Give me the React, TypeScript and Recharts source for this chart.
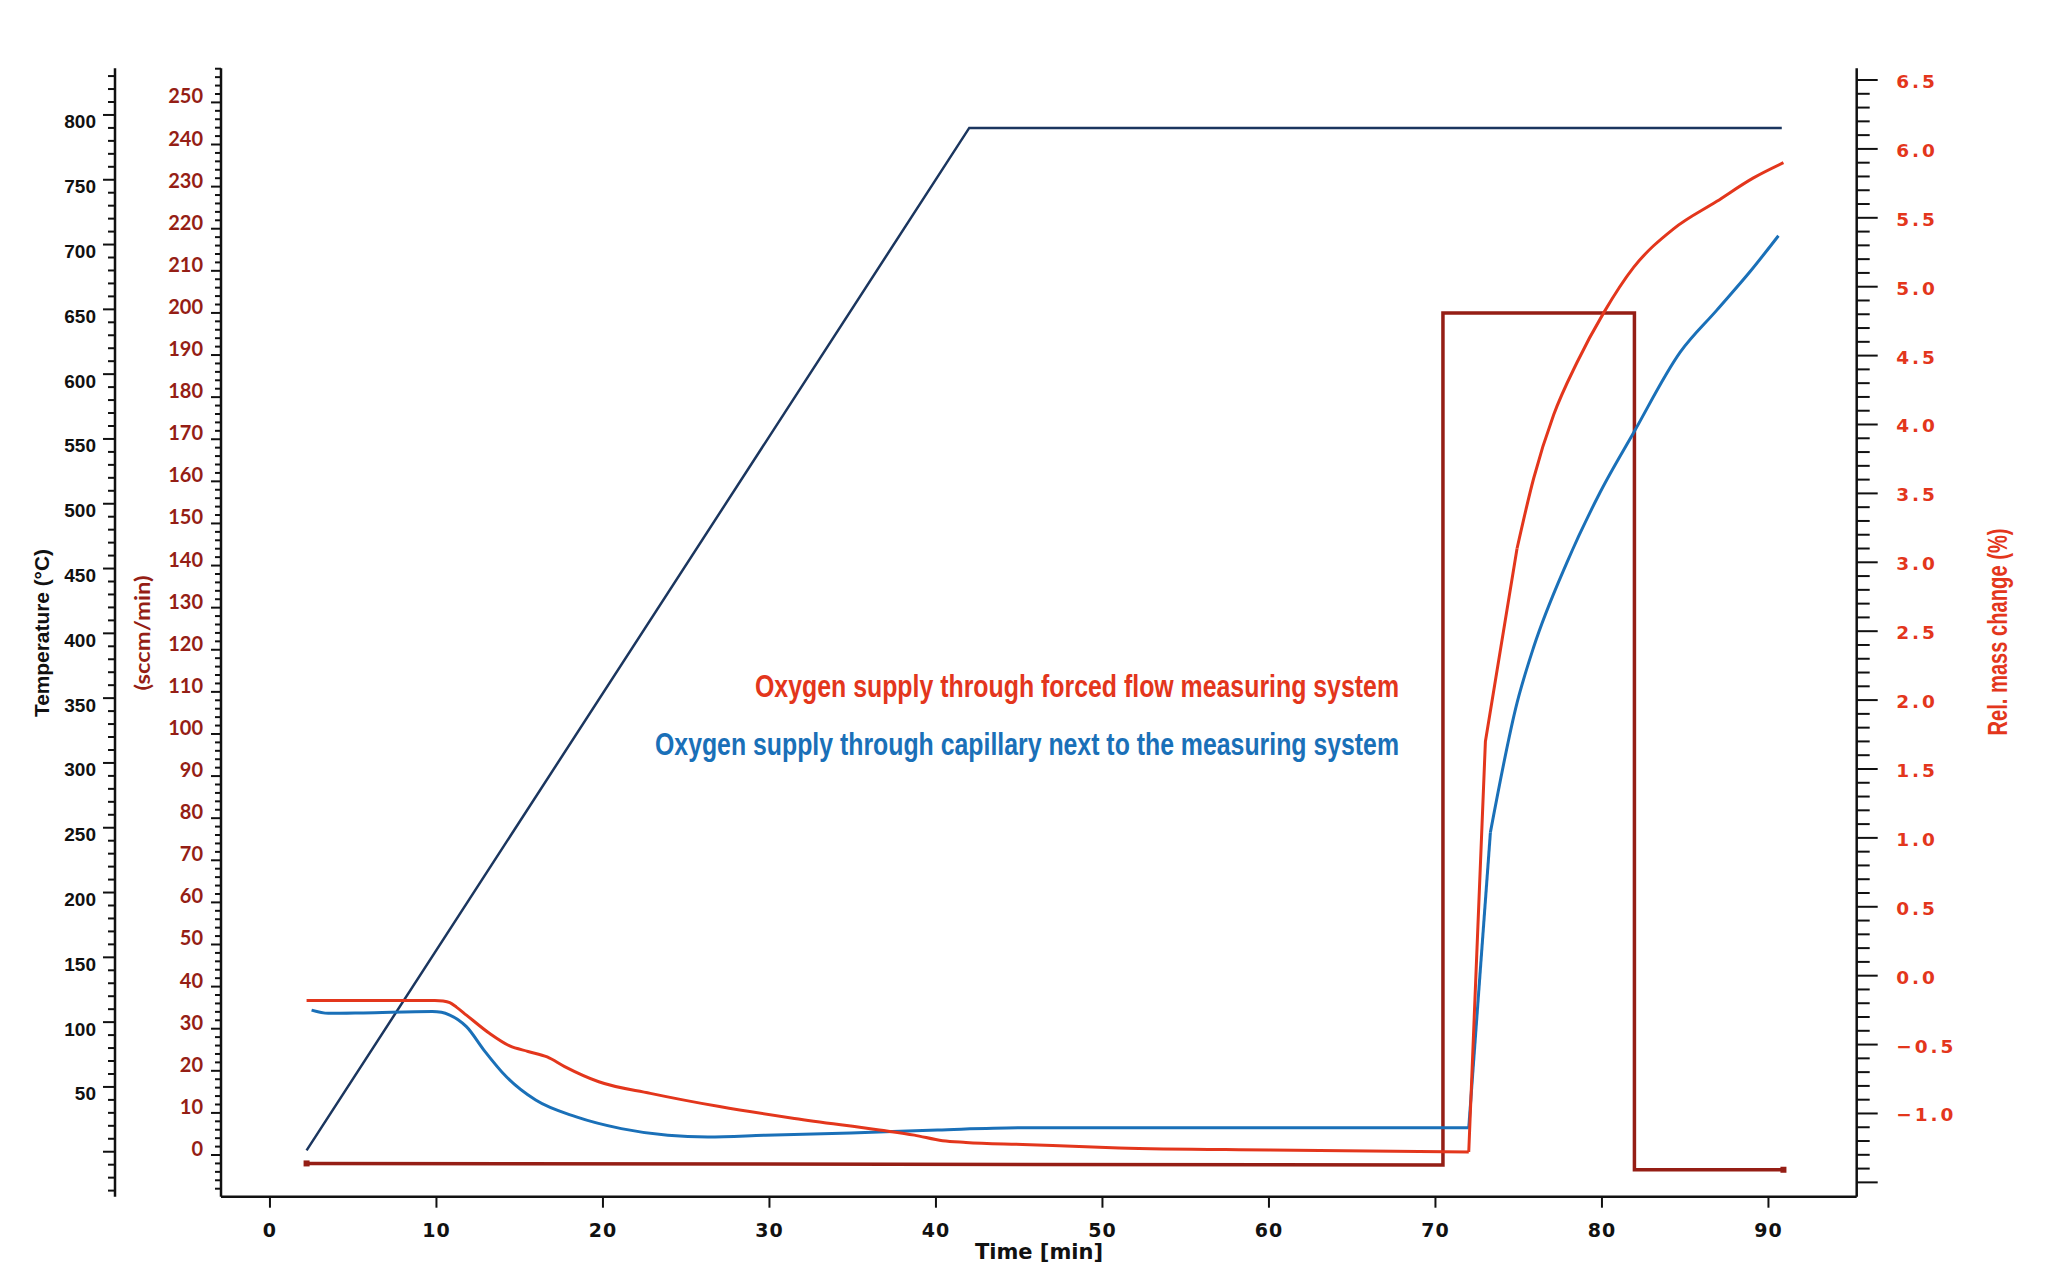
import React from "react";
import { LineChart, Line, XAxis, YAxis, Customized } from "recharts";

// time axis [min]
const X_TICKS = [0, 10, 20, 30, 40, 50, 60, 70, 80, 90];

// labelled tick values
const TEMP_LABELS = [50, 100, 150, 200, 250, 300, 350, 400, 450, 500, 550, 600, 650, 700, 750, 800];
const SCCM_LABELS = [0, 10, 20, 30, 40, 50, 60, 70, 80, 90, 100, 110, 120, 130, 140, 150, 160, 170, 180, 190, 200, 210, 220, 230, 240, 250];
const MASS_LABELS = [-1.0, -0.5, 0.0, 0.5, 1.0, 1.5, 2.0, 2.5, 3.0, 3.5, 4.0, 4.5, 5.0, 5.5, 6.0, 6.5];

// temperature programme (°C)
const temperature = [
  { t: 2.2, v: 1 },
  { t: 42.0, v: 790 },
  { t: 90.8, v: 790 },
];

// gas flow (sccm/min)
const gasFlow = [
  { t: 2.2, v: -2.0 },
  { t: 70.45, v: -2.4 },
  { t: 70.45, v: 200 },
  { t: 81.95, v: 200 },
  { t: 81.95, v: -3.5 },
  { t: 90.9, v: -3.5 },
];

// rel. mass change (%), forced flow
const forcedFlow = [
  { t: 2.2, v: -0.18 }, { t: 9.9, v: -0.18 }, { t: 10.4, v: -0.184 }, { t: 10.8, v: -0.196 },
  { t: 11.2, v: -0.228 }, { t: 11.8, v: -0.286 }, { t: 13.2, v: -0.42 }, { t: 14.4, v: -0.51 },
  { t: 15.5, v: -0.55 }, { t: 16.65, v: -0.59 }, { t: 17.7, v: -0.66 }, { t: 19.75, v: -0.77 },
  { t: 22.85, v: -0.854 }, { t: 27.0, v: -0.95 }, { t: 31.5, v: -1.036 }, { t: 36.6, v: -1.12 },
  { t: 38.7, v: -1.157 }, { t: 40.4, v: -1.198 }, { t: 41.8, v: -1.21 }, { t: 45.2, v: -1.225 },
  { t: 51.0, v: -1.25 }, { t: 60.0, v: -1.265 }, { t: 72.0, v: -1.28 },
  { t: 73.0, v: 1.7 }, { t: 74.9, v: 3.1 },
  { t: 75.9, v: 3.61 }, { t: 77.1, v: 4.07 }, { t: 78.5, v: 4.45 }, { t: 80.1, v: 4.81 },
  { t: 81.9, v: 5.14 }, { t: 84.3, v: 5.42 }, { t: 86.9, v: 5.62 }, { t: 89.1, v: 5.79 },
  { t: 90.9, v: 5.9 },
];

// rel. mass change (%), capillary
const capillary = [
  { t: 2.5, v: -0.25 }, { t: 3.5, v: -0.273 }, { t: 5.6, v: -0.27 }, { t: 9.75, v: -0.26 },
  { t: 10.3, v: -0.266 }, { t: 10.8, v: -0.286 }, { t: 11.3, v: -0.32 }, { t: 11.8, v: -0.37 },
  { t: 12.85, v: -0.54 }, { t: 14.2, v: -0.734 }, { t: 15.96, v: -0.903 }, { t: 18.4, v: -1.025 },
  { t: 21.1, v: -1.11 }, { t: 23.9, v: -1.158 }, { t: 26.3, v: -1.17 }, { t: 29.75, v: -1.158 },
  { t: 34.9, v: -1.141 }, { t: 40.1, v: -1.12 }, { t: 45.3, v: -1.104 }, { t: 72.0, v: -1.104 },
  { t: 73.3, v: 1.04 },
  { t: 74.9, v: 1.98 }, { t: 75.9, v: 2.385 }, { t: 77.9, v: 3.0 }, { t: 79.9, v: 3.51 },
  { t: 81.9, v: 3.94 }, { t: 84.7, v: 4.525 }, { t: 86.9, v: 4.83 }, { t: 88.9, v: 5.11 },
  { t: 90.6, v: 5.37 },
];

const INK = "#111111";
const DARK_RED = "#951e15";
const RED = "#e3361c";
const BLUE = "#1a70b8";
const NAVY = "#1b365f";

const NARROW = "'Liberation Sans Narrow', 'Liberation Sans', Arial, sans-serif";
const WIDE = "'DejaVu Sans', Verdana, sans-serif";
const ROUND = "Lato, 'Open Sans', sans-serif";

const steps = (from: number, to: number, step: number) =>
  Array.from({ length: Math.round((to - from) / step) + 1 }, (_, i) => +(from + i * step).toFixed(2));

const TEMP_TICKS = steps(-30, 830, 10);
const SCCM_TICKS = steps(-8, 258, 2);
const MASS_TICKS = steps(-1.5, 6.5, 0.1);

// split a curve at its sharp kinks: smooth parts get a monotone curve, the jump stays straight
const before = (rows: { t: number; v: number }[], t: number) => rows.filter((r) => r.t <= t);
const between = (rows: { t: number; v: number }[], a: number, b: number) => rows.filter((r) => r.t >= a && r.t <= b);
const after = (rows: { t: number; v: number }[], t: number) => rows.filter((r) => r.t >= t);

function TempTick({ x, y, payload }: any) {
  const v = payload.value as number;
  const major = v % 50 === 0;
  return (
    <g>
      <line x1={x} x2={x - (major ? 12 : 7)} y1={y} y2={y} stroke={INK} strokeWidth={2} />
      {TEMP_LABELS.includes(v) && (
        <text x={x - 19} y={y + 13.5} textAnchor="end" fill={INK} fontSize={19} fontWeight={700} fontFamily={NARROW}>
          {v}
        </text>
      )}
    </g>
  );
}

function SccmTick({ x, y, payload }: any) {
  const v = payload.value as number;
  const major = v % 10 === 0;
  return (
    <g>
      <line x1={x} x2={x - (major ? 10 : 6)} y1={y} y2={y} stroke={INK} strokeWidth={2} />
      {SCCM_LABELS.includes(v) && (
        <text x={x - 18} y={y + 1} textAnchor="end" fill={DARK_RED} fontSize={20} fontWeight={700} fontFamily={ROUND}>
          {v}
        </text>
      )}
    </g>
  );
}

function MassTick({ x, y, payload }: any) {
  const v = payload.value as number;
  const major = Math.round(v * 10) % 5 === 0;
  const labelled = MASS_LABELS.some((m) => Math.abs(m - v) < 1e-6);
  return (
    <g>
      <line x1={x} x2={x + (major ? 21 : 13)} y1={y} y2={y} stroke={INK} strokeWidth={2} />
      {labelled && (
        <text x={x + 39.5} y={y + 8} textAnchor="start" fill={RED} fontSize={18.5} fontWeight={700} fontFamily={WIDE} letterSpacing={3}>
          {v.toFixed(1).replace("-", "\u2212")}
        </text>
      )}
    </g>
  );
}

function TimeTick({ x, y, payload }: any) {
  return (
    <g>
      <line x1={x} x2={x} y1={y} y2={y + 11} stroke={INK} strokeWidth={2} />
      <text x={x} y={y + 40} textAnchor="middle" fill={INK} fontSize={19} fontWeight={700} fontFamily={WIDE} letterSpacing={1}>
        {payload.value}
      </text>
    </g>
  );
}

function FlowEnd(props: any) {
  const { cx, cy, index } = props;
  if (index !== 0 && index !== gasFlow.length - 1) return <g key={index} />;
  return <rect key={index} x={cx - 3} y={cy - 3} width={6} height={6} fill={DARK_RED} />;
}

function Titles() {
  return (
    <g>
      <text x={49} y={633} transform="rotate(-90 49 633)" textAnchor="middle" fill={INK} fontSize={20} fontWeight={700}
        fontFamily="'Liberation Sans', Arial, sans-serif" textLength={168} lengthAdjust="spacingAndGlyphs">
        Temperature (°C)
      </text>
      <text x={150} y={633} transform="rotate(-90 150 633)" textAnchor="middle" fill={DARK_RED} fontSize={20} fontWeight={700}
        fontFamily={ROUND} textLength={115} lengthAdjust="spacingAndGlyphs">
        (sccm/min)
      </text>
      <text x={2007} y={632} transform="rotate(-90 2007 632)" textAnchor="middle" fill={RED} fontSize={28} fontWeight={700}
        fontFamily={NARROW} textLength={207} lengthAdjust="spacingAndGlyphs">
        Rel. mass change (%)
      </text>
      <text x={1039} y={1259} textAnchor="middle" fill={INK} fontSize={21} fontWeight={700} fontFamily={WIDE}>
        Time [min]
      </text>
      <text x={755} y={697} fill={RED} fontSize={32} fontWeight={700} fontFamily={NARROW}
        textLength={644} lengthAdjust="spacingAndGlyphs">
        Oxygen supply through forced flow measuring system
      </text>
      <text x={655} y={755} fill={BLUE} fontSize={32} fontWeight={700} fontFamily={NARROW}
        textLength={744} lengthAdjust="spacingAndGlyphs">
        Oxygen supply through capillary next to the measuring system
      </text>
    </g>
  );
}

export default function App() {
  const axisLine = { stroke: INK, strokeWidth: 2.5 };
  const massLine = { yAxisId: "mass", dataKey: "v", strokeWidth: 3, dot: false, isAnimationActive: false } as const;
  return (
    <div style={{ position: "absolute", left: 0, top: 0, background: "#fff" }}>
      <LineChart width={2048} height={1283} margin={{ top: 68.3, right: 21.3, bottom: 6.3, left: 20 }}>
        <XAxis
          dataKey="t"
          type="number"
          domain={[-2.94, 95.3]}
          allowDataOverflow
          ticks={X_TICKS}
          interval={0}
          height={80}
          tickSize={0}
          tickMargin={0}
          tickLine={false}
          axisLine={axisLine}
          tick={(p: any) => <TimeTick {...p} />}
        />
        <XAxis
          xAxisId="top"
          orientation="top"
          type="number"
          domain={[-2.94, 95.3]}
          allowDataOverflow
          height={0}
          tick={false}
          tickLine={false}
          axisLine={{ stroke: INK, strokeWidth: 2 }}
        />
        <YAxis
          yAxisId="sccm"
          orientation="left"
          type="number"
          width={106}
          domain={[-9.9, 258.1]}
          allowDataOverflow
          ticks={SCCM_TICKS}
          interval={0}
          tickSize={0}
          tickMargin={0}
          tickLine={false}
          axisLine={axisLine}
          tick={(p: any) => <SccmTick {...p} />}
        />
        <YAxis
          yAxisId="temp"
          orientation="left"
          type="number"
          width={95}
          domain={[-34.7, 836]}
          allowDataOverflow
          ticks={TEMP_TICKS}
          interval={0}
          tickSize={0}
          tickMargin={0}
          tickLine={false}
          axisLine={axisLine}
          tick={(p: any) => <TempTick {...p} />}
        />
        <YAxis
          yAxisId="mass"
          orientation="right"
          type="number"
          width={170}
          domain={[-1.604, 6.585]}
          allowDataOverflow
          ticks={MASS_TICKS}
          interval={0}
          tickSize={0}
          tickMargin={0}
          tickLine={false}
          axisLine={axisLine}
          tick={(p: any) => <MassTick {...p} />}
        />
        <Line yAxisId="temp" data={temperature} dataKey="v" type="linear" stroke={NAVY} strokeWidth={2.5} dot={false} isAnimationActive={false} />
        <Line yAxisId="sccm" data={gasFlow} dataKey="v" type="linear" stroke={DARK_RED} strokeWidth={3.5} dot={FlowEnd} isAnimationActive={false} />

        <Line {...massLine} data={before(capillary, 72.0)} type="monotone" stroke={BLUE} />
        <Line {...massLine} data={between(capillary, 72.0, 73.3)} type="linear" stroke={BLUE} />
        <Line {...massLine} data={after(capillary, 73.3)} type="monotone" stroke={BLUE} />

        <Line {...massLine} data={before(forcedFlow, 72.0)} type="monotone" stroke={RED} />
        <Line {...massLine} data={between(forcedFlow, 72.0, 74.9)} type="linear" stroke={RED} />
        <Line {...massLine} data={after(forcedFlow, 74.9)} type="monotone" stroke={RED} />
        <Customized component={Titles} />
      </LineChart>
    </div>
  );
}
